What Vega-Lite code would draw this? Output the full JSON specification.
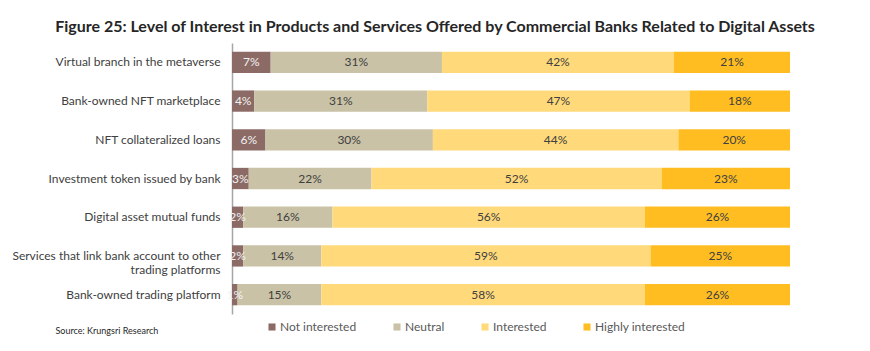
{
  "$schema": "https://vega.github.io/schema/vega-lite/v6.json",
  "width": 558,
  "height": 271,
  "autosize": {"type": "none"},
  "padding": {"left": 232, "top": 43, "right": 80, "bottom": 37},
  "background": "white",
  "title": {
    "text": "Figure 25: Level of Interest in Products and Services Offered by Commercial Banks Related to Digital Assets",
    "font": "Lato",
    "fontSize": 16,
    "fontWeight": "bold",
    "color": "#262626",
    "anchor": "middle",
    "dx": -76,
    "offset": 8
  },
  "config": {
    "view": {"stroke": null},
    "font": "Lato"
  },
  "data": {
    "values": [
      {"item": "Virtual branch in the metaverse", "level": "Not interested", "pct": 7},
      {"item": "Virtual branch in the metaverse", "level": "Neutral", "pct": 31},
      {"item": "Virtual branch in the metaverse", "level": "Interested", "pct": 42},
      {"item": "Virtual branch in the metaverse", "level": "Highly interested", "pct": 21},
      {"item": "Bank-owned NFT marketplace", "level": "Not interested", "pct": 4},
      {"item": "Bank-owned NFT marketplace", "level": "Neutral", "pct": 31},
      {"item": "Bank-owned NFT marketplace", "level": "Interested", "pct": 47},
      {"item": "Bank-owned NFT marketplace", "level": "Highly interested", "pct": 18},
      {"item": "NFT collateralized loans", "level": "Not interested", "pct": 6},
      {"item": "NFT collateralized loans", "level": "Neutral", "pct": 30},
      {"item": "NFT collateralized loans", "level": "Interested", "pct": 44},
      {"item": "NFT collateralized loans", "level": "Highly interested", "pct": 20},
      {"item": "Investment token issued by bank", "level": "Not interested", "pct": 3},
      {"item": "Investment token issued by bank", "level": "Neutral", "pct": 22},
      {"item": "Investment token issued by bank", "level": "Interested", "pct": 52},
      {"item": "Investment token issued by bank", "level": "Highly interested", "pct": 23},
      {"item": "Digital asset mutual funds", "level": "Not interested", "pct": 2},
      {"item": "Digital asset mutual funds", "level": "Neutral", "pct": 16},
      {"item": "Digital asset mutual funds", "level": "Interested", "pct": 56},
      {"item": "Digital asset mutual funds", "level": "Highly interested", "pct": 26},
      {"item": "Services that link bank account to other trading platforms", "level": "Not interested", "pct": 2},
      {"item": "Services that link bank account to other trading platforms", "level": "Neutral", "pct": 14},
      {"item": "Services that link bank account to other trading platforms", "level": "Interested", "pct": 59},
      {"item": "Services that link bank account to other trading platforms", "level": "Highly interested", "pct": 25},
      {"item": "Bank-owned trading platform", "level": "Not interested", "pct": 1},
      {"item": "Bank-owned trading platform", "level": "Neutral", "pct": 15},
      {"item": "Bank-owned trading platform", "level": "Interested", "pct": 58},
      {"item": "Bank-owned trading platform", "level": "Highly interested", "pct": 26}
    ]
  },
  "encoding": {
    "y": {
      "field": "item",
      "type": "nominal",
      "sort": null,
      "scale": {"paddingInner": 0.45, "paddingOuter": 0.225},
      "axis": {
        "title": null,
        "ticks": false,
        "domainColor": "#a6a6a6",
        "domainWidth": 1.5,
        "labelFont": "Lato",
        "labelFontSize": 12,
        "labelColor": "#404040",
        "labelPadding": 12,
        "labelLimit": 300,
        "labelExpr": "datum.value == 'Services that link bank account to other trading platforms' ? ['Services that link bank account to other', 'trading platforms'] : datum.value"
      }
    },
    "x": {
      "field": "pct",
      "type": "quantitative",
      "stack": "normalize",
      "scale": {"domain": [0, 1], "nice": false},
      "axis": {
        "domain": false,
        "ticks": false,
        "labels": false,
        "grid": false,
        "title": "Source: Krungsri Research",
        "titleFont": "Lato",
        "titleFontSize": 9,
        "titleFontWeight": "normal",
        "titleColor": "#262626",
        "titleX": -177,
        "titleY": 16,
        "titleAlign": "left",
        "titleAnchor": null,
        "titleBaseline": "middle"
      }
    },
    "order": {"field": "level", "sort": "descending"}
  },
  "layer": [
    {
      "mark": {"type": "bar"},
      "encoding": {
        "color": {
          "field": "level",
          "type": "nominal",
          "scale": {
            "domain": ["Not interested", "Neutral", "Interested", "Highly interested"],
            "range": ["#8c6b66", "#c9c2a6", "#ffd97a", "#ffbd22"]
          },
          "legend": {
            "title": null,
            "orient": "none",
            "direction": "horizontal",
            "legendX": 34,
            "legendY": 278,
            "symbolType": "square",
            "symbolSize": 50,
            "symbolStrokeWidth": 0,
            "labelFont": "Lato",
            "labelFontSize": 12,
            "labelColor": "#595959",
            "labelOffset": 2,
            "columnPadding": 34,
            "padding": 0
          }
        }
      }
    },
    {
      "mark": {"type": "text", "font": "Lato", "fontSize": 12, "align": "center", "baseline": "middle", "text": {"expr": "datum.pct + '%'"}},
      "encoding": {
        "x": {"field": "pct", "type": "quantitative", "stack": "normalize", "bandPosition": 0.5},
        "detail": {"field": "level"},
        "color": {
          "condition": {"test": "datum.level === 'Not interested'", "value": "#f2f2f2"},
          "value": "#404040"
        }
      }
    }
  ]
}
